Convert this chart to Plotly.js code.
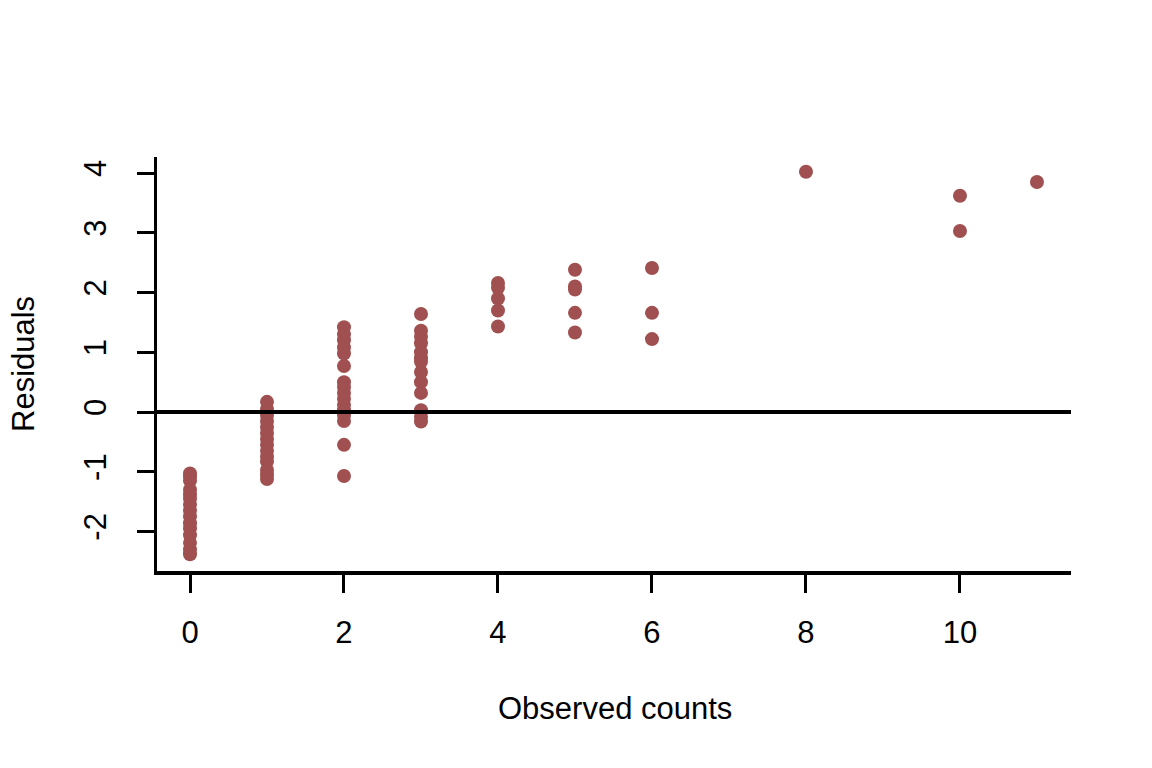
<!DOCTYPE html>
<html>
<head>
<meta charset="utf-8">
<script src="https://cdn.plot.ly/plotly-3.0.1.min.js"></script>
<style>html,body{margin:0;padding:0;background:#fff;}#chart{width:1152px;height:768px;}</style>
</head>
<body>
<div id="chart"></div>
<script>
// Observed counts and residuals, grouped by count value
const obs0 = [-1.03, -1.08, -1.15, -1.3, -1.38, -1.45, -1.55, -1.65, -1.75, -1.86, -1.95, -2.06, -2.19, -2.3, -2.38];
const obs1 = [0.17, 0.05, -0.05, -0.15, -0.25, -0.35, -0.45, -0.55, -0.65, -0.75, -0.83, -0.97, -1.05, -1.12];
const obs2 = [1.42, 1.3, 1.2, 1.08, 0.98, 0.77, 0.5, 0.42, 0.32, 0.22, 0.12, 0.03, -0.05, -0.15, -0.55, -1.07];
const obs3 = [1.64, 1.36, 1.26, 1.15, 1.0, 0.9, 0.84, 0.67, 0.5, 0.32, 0.03, -0.08, -0.16];
const obs4 = [2.16, 2.08, 1.9, 1.7, 1.43];
const obs5 = [2.38, 2.1, 2.05, 1.66, 1.33];
const obs6 = [2.41, 1.66, 1.22];
const obs8 = [4.02];
const obs10 = [3.62, 3.03];
const obs11 = [3.85];

const groups = [[0, obs0], [1, obs1], [2, obs2], [3, obs3], [4, obs4], [5, obs5], [6, obs6], [8, obs8], [10, obs10], [11, obs11]];
const xs = [], ys = [];
groups.forEach(([c, arr]) => arr.forEach(v => { xs.push(c); ys.push(v); }));

const xTicks = [0, 2, 4, 6, 8, 10];
const yTicks = [-2, -1, 0, 1, 2, 3, 4];

const font = {family: 'Liberation Sans, Arial, sans-serif', size: 31, color: '#000'};

const trace = {
  x: xs, y: ys, type: 'scatter', mode: 'markers',
  marker: {color: '#A05050', size: 14, line: {width: 0}},
  hoverinfo: 'skip'
};

const layout = {
  width: 1152, height: 768,
  paper_bgcolor: '#fff', plot_bgcolor: '#fff',
  margin: {l: 157, r: 81, t: 157, b: 197},
  showlegend: false,
  font: font,
  xaxis: {
    range: [-0.4286, 11.442], tickvals: xTicks, ticktext: xTicks.map(String),
    showgrid: false, zeroline: false, showline: true, linecolor: '#000', linewidth: 3.5,
    ticks: 'outside', ticklen: 18, tickwidth: 3, tickcolor: '#000',
    tickfont: font, ticklabelstandoff: 13
  },
  yaxis: {
    range: [-2.661, 4.268], tickvals: yTicks, ticktext: yTicks.map(String),
    showgrid: false, zeroline: false, showline: true, linecolor: '#000', linewidth: 3.5,
    ticks: 'outside', ticklen: 17, tickwidth: 3, tickcolor: '#000',
    tickfont: font, tickangle: -90, ticklabelstandoff: 18
  },
  shapes: [{type: 'line', xref: 'paper', x0: 0, x1: 1, yref: 'y', y0: 0, y1: 0,
            line: {color: '#000', width: 4}}],
  annotations: [
    {text: 'Observed counts', xref: 'paper', yref: 'paper', x: (615 - 157) / 914, y: (571 - 708) / 414,
     showarrow: false, font: font, xanchor: 'center', yanchor: 'middle'},
    {text: 'Residuals', xref: 'paper', yref: 'paper', x: 0, y: 0.5, showarrow: false,
     font: font, textangle: -90, xanchor: 'center', yanchor: 'middle', xshift: -134}
  ]
};

Plotly.newPlot('chart', [trace], layout, {staticPlot: true, displayModeBar: false});
</script>
</body>
</html>
